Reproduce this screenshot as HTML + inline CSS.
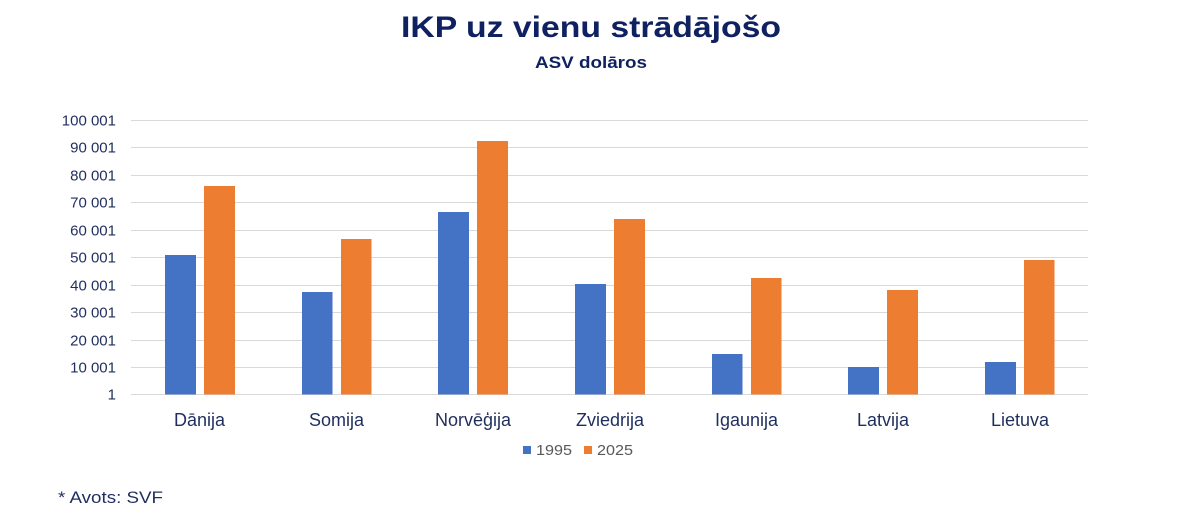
<!DOCTYPE html>
<html>
<head>
<meta charset="utf-8">
<style>
  html, body { margin: 0; padding: 0; background: #ffffff; }
  svg { display: block; }
  text { font-family: "Liberation Sans", "DejaVu Sans", sans-serif; }
</style>
</head>
<body>
<svg width="1185" height="516" viewBox="0 0 1185 516" xmlns="http://www.w3.org/2000/svg">
  <rect x="0" y="0" width="1185" height="516" fill="#ffffff"/>

  <!-- Title -->
  <text x="591" y="37" text-anchor="middle" font-size="30" font-weight="bold" fill="#0f2160" textLength="380" lengthAdjust="spacingAndGlyphs">IKP uz vienu strādājošo</text>
  <text x="591" y="68" text-anchor="middle" font-size="17" font-weight="bold" fill="#0f2160" textLength="112" lengthAdjust="spacingAndGlyphs">ASV dolāros</text>

  <!-- Gridlines -->
  <g stroke="#d9d9d9" stroke-width="1">
    <line x1="131" y1="120.5" x2="1088" y2="120.5"/>
    <line x1="131" y1="147.5" x2="1088" y2="147.5"/>
    <line x1="131" y1="175.5" x2="1088" y2="175.5"/>
    <line x1="131" y1="202.5" x2="1088" y2="202.5"/>
    <line x1="131" y1="230.5" x2="1088" y2="230.5"/>
    <line x1="131" y1="257.5" x2="1088" y2="257.5"/>
    <line x1="131" y1="285.5" x2="1088" y2="285.5"/>
    <line x1="131" y1="312.5" x2="1088" y2="312.5"/>
    <line x1="131" y1="340.5" x2="1088" y2="340.5"/>
    <line x1="131" y1="367.5" x2="1088" y2="367.5"/>
    <line x1="131" y1="394.5" x2="1088" y2="394.5"/>
  </g>

  <!-- Y tick labels -->
  <g font-size="15" fill="#1f2e5e" text-anchor="end">
    <text x="116" y="125.5">100 001</text>
    <text x="116" y="152.5">90 001</text>
    <text x="116" y="180.5">80 001</text>
    <text x="116" y="207.5">70 001</text>
    <text x="116" y="235.5">60 001</text>
    <text x="116" y="262.5">50 001</text>
    <text x="116" y="290.5">40 001</text>
    <text x="116" y="317.5">30 001</text>
    <text x="116" y="345.5">20 001</text>
    <text x="116" y="372.5">10 001</text>
    <text x="116" y="399.5">1</text>
  </g>

  <!-- Bars 1995 -->
  <g fill="#4472c4">
    <rect x="165" y="255" width="31" height="139.5"/>
    <rect x="302" y="292" width="30.5" height="102.5"/>
    <rect x="438" y="212" width="31" height="182.5"/>
    <rect x="575" y="284" width="31" height="110.5"/>
    <rect x="712" y="354" width="30.5" height="40.5"/>
    <rect x="848" y="367" width="31" height="27.5"/>
    <rect x="985" y="362" width="31" height="32.5"/>
  </g>
  <!-- Bars 2025 -->
  <g fill="#ed7d31">
    <rect x="204" y="186" width="31" height="208.5"/>
    <rect x="341" y="239" width="30.5" height="155.5"/>
    <rect x="477" y="141" width="31" height="253.5"/>
    <rect x="614" y="219" width="31" height="175.5"/>
    <rect x="751" y="278" width="30.5" height="116.5"/>
    <rect x="887" y="290" width="31" height="104.5"/>
    <rect x="1024" y="260" width="30.5" height="134.5"/>
  </g>

  <!-- Category labels -->
  <g font-size="18" fill="#1f2e5e" text-anchor="middle">
    <text x="199.5" y="426">Dānija</text>
    <text x="336.5" y="426">Somija</text>
    <text x="473" y="426">Norvēģija</text>
    <text x="610" y="426">Zviedrija</text>
    <text x="746.5" y="426">Igaunija</text>
    <text x="883" y="426">Latvija</text>
    <text x="1020" y="426">Lietuva</text>
  </g>

  <!-- Legend -->
  <rect x="523" y="446" width="8" height="8" fill="#4472c4"/>
  <text x="536" y="455" font-size="15" fill="#595959" textLength="36" lengthAdjust="spacingAndGlyphs">1995</text>
  <rect x="584" y="446" width="8" height="8" fill="#ed7d31"/>
  <text x="597" y="455" font-size="15" fill="#595959" textLength="36" lengthAdjust="spacingAndGlyphs">2025</text>

  <!-- Footnote -->
  <text x="58" y="503" font-size="17" fill="#1f2e5e" textLength="105" lengthAdjust="spacingAndGlyphs">* Avots: SVF</text>
</svg>
</body>
</html>
